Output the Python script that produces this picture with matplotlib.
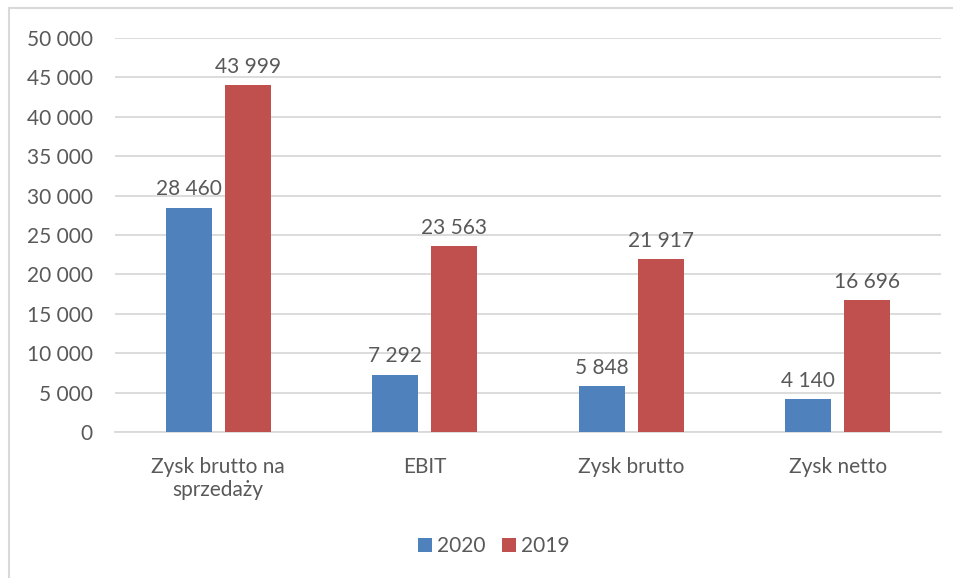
import numpy as np
import matplotlib
matplotlib.use("Agg")
from matplotlib import pyplot as plt
from matplotlib.patches import Rectangle

categories = ["Zysk brutto na\nsprzedaży", "EBIT", "Zysk brutto", "Zysk netto"]
values_2020 = [28460, 7292, 5848, 4140]
values_2019 = [43999, 23563, 21917, 16696]
series_names = ["2020", "2019"]
yticks = list(range(0, 50001, 5000))

plt.rcParams['font.family'] = ['Lato', 'DejaVu Sans']
text_color = '#595959'
grid_color = '#d9d9d9'
colors = ['#4f81bd', '#c0504d']

W, H = 954, 578
fig = plt.figure(figsize=(W / 100, H / 100), dpi=100)
ax = fig.add_axes([115 / W, 1 - 432 / H, (941 - 115) / W, (432 - 38) / H])

# outer chart border (only top/left visible in the picture)
fig.patches.append(Rectangle((9 / W, -0.1), 1.2, 1 - 8 / H + 0.1, transform=fig.transFigure,
                             fill=False, edgecolor=grid_color, linewidth=1.5))

x = np.arange(len(categories))
width = 0.223
offset = 0.143

def fmt(v):
    return '{:,}'.format(v).replace(',', ' ')

for vals, off, col, name in [(values_2020, -offset, colors[0], series_names[0]),
                             (values_2019, offset, colors[1], series_names[1])]:
    rects = ax.bar(x + off, vals, width, color=col, label=name, zorder=3)
    for rect, v in zip(rects, vals):
        ax.annotate(fmt(v), (rect.get_x() + rect.get_width() / 2, v),
                    xytext=(0, 6), textcoords='offset points',
                    ha='center', va='bottom', fontsize=15, color=text_color)

ax.set_xlim(-0.5, len(categories) - 0.5)
ax.set_ylim(0, 50000)
ax.set_yticks(yticks)
ax.set_yticklabels([fmt(t) for t in yticks])
ax.set_xticks(x)
ax.set_xticklabels(categories)
ax.tick_params(axis='both', length=0, labelsize=15, labelcolor=text_color)
ax.tick_params(axis='y', pad=16)
ax.tick_params(axis='x', pad=18)
ax.yaxis.grid(True, color=grid_color, linewidth=1.3, zorder=0)
ax.set_axisbelow(True)
for s in ['top', 'right', 'left']:
    ax.spines[s].set_visible(False)
ax.spines['bottom'].set_color(grid_color)
ax.spines['bottom'].set_linewidth(1.3)

fig.legend(loc='center', bbox_to_anchor=(494 / W, 1 - 546 / H), ncol=2, frameon=False,
           fontsize=15, labelcolor=text_color, handlelength=0.67, handleheight=0.67,
           handletextpad=0.25, columnspacing=0.8)

fig.savefig('out.png', dpi=100)
